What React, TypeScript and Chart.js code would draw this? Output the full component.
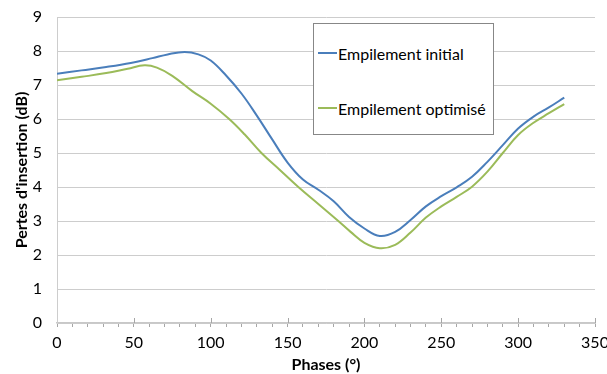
import React, { useEffect, useRef } from "react";
import { Chart, registerables } from "chart.js";

Chart.register(...registerables);

const seriesNames = ["Empilement initial", "Empilement optimisé"];
const seriesColors = ["#4a7ebb", "#9bbb59"];

const initialPhases = [0, 16, 32, 48, 62, 72, 83, 92, 100, 110, 120, 130, 140, 150, 160, 170, 180, 190, 200, 210, 220, 230, 240, 250, 260, 270, 280, 290, 300, 310, 320, 330];
const initialValues = [7.33, 7.43, 7.53, 7.65, 7.79, 7.9, 7.97, 7.9, 7.72, 7.28, 6.75, 6.1, 5.4, 4.72, 4.22, 3.92, 3.58, 3.12, 2.78, 2.56, 2.68, 3.03, 3.43, 3.73, 3.99, 4.3, 4.74, 5.23, 5.72, 6.07, 6.34, 6.63];

const optimisedPhases = [0, 16, 32, 46, 57, 65, 75, 88, 100, 112, 122, 133, 145, 157, 170, 183, 191, 200, 210, 220, 230, 240, 250, 260, 270, 280, 290, 300, 310, 320, 330];
const optimisedValues = [7.14, 7.24, 7.35, 7.48, 7.58, 7.51, 7.27, 6.82, 6.45, 6.0, 5.55, 5.0, 4.5, 4.0, 3.5, 3.0, 2.68, 2.36, 2.2, 2.3, 2.66, 3.1, 3.43, 3.71, 4.01, 4.45, 5.0, 5.53, 5.89, 6.17, 6.44];

const xTitle = "Phases (°)";
const yTitle = "Pertes d'insertion (dB)";

const FONT = "Lato, 'Open Sans', sans-serif";
const FS = 16;

const majorTicks = {
  id: "majorTicks",
  afterDraw(chart: any) {
    const xs = chart.scales.x;
    const ctx = chart.ctx;
    const base = chart.chartArea.bottom;
    ctx.save();
    ctx.strokeStyle = "#a6a6a6";
    ctx.lineWidth = 1;
    for (const t of xs.ticks) {
      if (t.value % 50 !== 0 || t.value === 0) continue;
      const px = Math.round(xs.getPixelForValue(t.value)) + 0.5;
      ctx.beginPath();
      ctx.moveTo(px, base - 5);
      ctx.lineTo(px, base);
      ctx.stroke();
    }
    ctx.restore();
  },
};

export default function App() {
  const ref = useRef<HTMLCanvasElement | null>(null);

  useEffect(() => {
    if (!ref.current) return;
    const toPoints = (xs: number[], ys: number[]) => xs.map((x, i) => ({ x, y: ys[i] }));
    const chart = new Chart(ref.current, {
      type: "line",
      data: {
        datasets: [
          {
            label: seriesNames[0],
            data: toPoints(initialPhases, initialValues),
            borderColor: seriesColors[0],
            backgroundColor: seriesColors[0],
            borderWidth: 2,
            pointRadius: 0,
            tension: 0.4,
            fill: false,
          },
          {
            label: seriesNames[1],
            data: toPoints(optimisedPhases, optimisedValues),
            borderColor: seriesColors[1],
            backgroundColor: seriesColors[1],
            borderWidth: 2,
            pointRadius: 0,
            tension: 0.4,
            fill: false,
          },
        ],
      },
      plugins: [majorTicks],
      options: {
        animation: false,
        responsive: false,
        maintainAspectRatio: false,
        layout: { padding: { left: 0, right: 12, top: 17, bottom: 0 } },
        plugins: { legend: { display: false }, tooltip: { enabled: false } },
        scales: {
          x: {
            type: "linear",
            min: 0,
            max: 350,
            ticks: {
              stepSize: 10,
              autoSkip: false,
              maxRotation: 0,
              padding: 6,
              color: "#000",
              font: { family: FONT, size: FS },
              callback: (v: any) => (Number(v) % 50 === 0 ? String(v) : ""),
            },
            grid: { drawOnChartArea: false, tickLength: 4, color: "#a6a6a6" },
            border: { color: "#c8c8c8", width: 1.5 },
            title: {
              display: true,
              text: xTitle,
              color: "#000",
              font: { family: FONT, size: FS, weight: "bold" },
              padding: { top: 0, bottom: 0 },
            },
            afterFit: (s: any) => {
              s.paddingLeft = 0;
              s.paddingRight = 0;
              s.height = 51;
            },
          },
          y: {
            type: "linear",
            min: 0,
            max: 9,
            ticks: {
              stepSize: 1,
              padding: 15,
              color: "#000",
              font: { family: FONT, size: FS },
            },
            grid: { drawTicks: false, color: "#cdcdcd" },
            border: { color: "#cdcdcd" },
            title: {
              display: true,
              text: yTitle,
              color: "#000",
              font: { family: FONT, size: FS, weight: "bold" },
              padding: { top: 12, bottom: 0 },
            },
            afterFit: (s: any) => {
              s.paddingTop = 0;
              s.paddingBottom = 0;
              s.width = 57;
            },
          },
        },
      },
    });
    return () => chart.destroy();
  }, []);

  const legendRows = [29, 84];

  return (
    <div style={{ position: "absolute", left: 0, top: 0, width: 607, height: 374, overflow: "hidden", background: "#fff" }}>
      <canvas ref={ref} width={607} height={374} style={{ width: 607, height: 374, display: "block" }} />
      <div
        style={{
          position: "absolute",
          left: 313,
          top: 23,
          width: 181,
          height: 112,
          boxSizing: "border-box",
          border: "1px solid #878787",
          background: "#fff",
          fontFamily: FONT,
          fontSize: 16,
          color: "#000",
        }}
      >
        {seriesNames.map((name, i) => (
          <div
            key={name}
            style={{
              position: "absolute",
              left: 4,
              top: legendRows[i] - 10,
              height: 20,
              display: "flex",
              alignItems: "center",
              whiteSpace: "nowrap",
            }}
          >
            <span style={{ display: "inline-block", width: 19, height: 2, background: seriesColors[i] }} />
            <span style={{ marginLeft: 1 }}>{name}</span>
          </div>
        ))}
      </div>
    </div>
  );
}
